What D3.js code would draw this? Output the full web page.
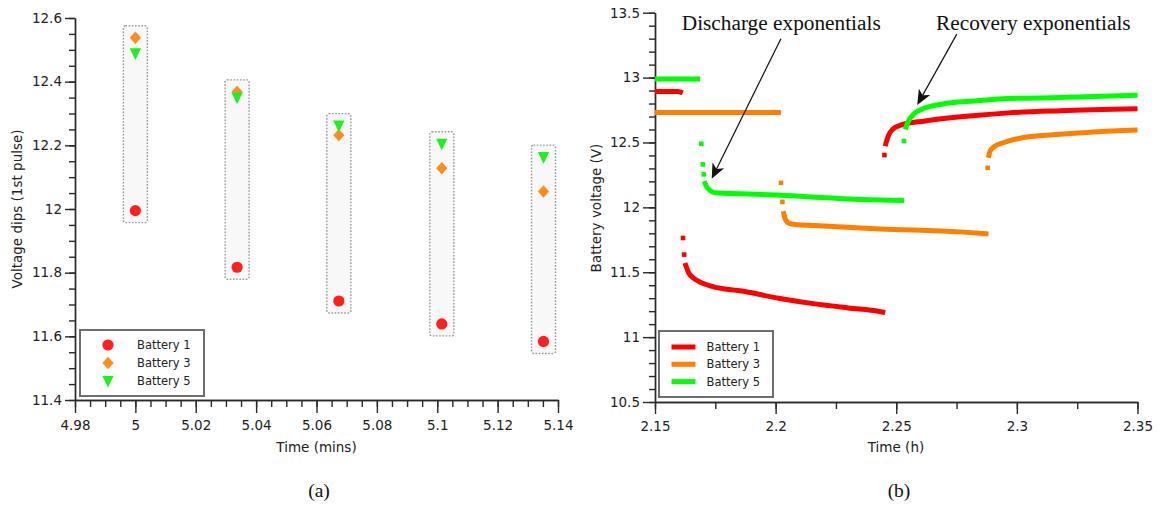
<!DOCTYPE html>
<html><head><meta charset="utf-8">
<script src="https://cdn.jsdelivr.net/npm/d3@7"></script>
<style>body{margin:0;background:#fff}svg{display:block}</style>
</head><body><svg id="c" width="1160" height="506"></svg>
<script>
// ---------- Panel (a) data ----------
const pulseTimes = [5.0, 5.0337, 5.0674, 5.1015, 5.1352];
const dipBattery1 = [11.995, 11.817, 11.711, 11.639, 11.584];
const dipBattery3 = [12.538, 12.368, 12.232, 12.128, 12.055];
const dipBattery5 = [12.489, 12.350, 12.262, 12.205, 12.163];
const xTicksA = [4.98, 5.00, 5.02, 5.04, 5.06, 5.08, 5.10, 5.12, 5.14];
const yTicksA = [11.4, 11.6, 11.8, 12.0, 12.2, 12.4, 12.6];

// ---------- Panel (b) data: [time h, voltage V] ----------
const b1Rest = [[2.15, 12.893], [2.1595, 12.893], [2.1615, 12.882]];
const b1DischargeFirst = [[2.1616, 11.764], [2.1621, 11.636]];
const b1Discharge = [[2.1624, 11.571], [2.1640, 11.494], [2.1660, 11.455], [2.1681, 11.430], [2.1736, 11.391], [2.1861, 11.355], [2.2018, 11.298], [2.2156, 11.258], [2.2300, 11.225], [2.2430, 11.198], [2.2454, 11.190]];
const b1RecoveryFirst = [[2.2451, 12.403]];
const b1Recovery = [[2.2454, 12.472], [2.2467, 12.550], [2.2488, 12.606], [2.2516, 12.632], [2.2619, 12.666], [2.2827, 12.708], [2.2965, 12.728], [2.3179, 12.745], [2.3500, 12.760]];

const b3Rest = [[2.15, 12.730], [2.2022, 12.730]];
const b3DischargeFirst = [[2.2022, 12.189], [2.2028, 12.042]];
const b3Discharge = [[2.2032, 11.970], [2.2038, 11.919], [2.2053, 11.880], [2.2080, 11.868], [2.2163, 11.860], [2.2433, 11.834], [2.2765, 11.811], [2.2882, 11.795]];
const b3RecoveryFirst = [[2.2879, 12.305]];
const b3Recovery = [[2.2882, 12.382], [2.2889, 12.434], [2.2910, 12.472], [2.2944, 12.498], [2.3041, 12.542], [2.3179, 12.563], [2.3317, 12.581], [2.3500, 12.596]];

const b5Rest = [[2.15, 12.990], [2.1687, 12.990]];
const b5DischargeFirst = [[2.1692, 12.490], [2.1698, 12.331], [2.1702, 12.254]];
const b5Discharge = [[2.1704, 12.202], [2.1713, 12.163], [2.1725, 12.136], [2.1750, 12.112], [2.1860, 12.104], [2.2000, 12.095], [2.2150, 12.080], [2.2330, 12.062], [2.2533, 12.053]];
const b5RecoveryFirst = [[2.2532, 12.511]];
const b5Recovery = [[2.2537, 12.601], [2.2551, 12.666], [2.2572, 12.717], [2.2606, 12.756], [2.2689, 12.795], [2.2827, 12.820], [2.2965, 12.838], [2.3179, 12.846], [2.3500, 12.864]];

const xTicksB = [2.15, 2.20, 2.25, 2.30, 2.35];
const yTicksB = [10.5, 11.0, 11.5, 12.0, 12.5, 13.0, 13.5];
const seriesNames = ["Battery 1", "Battery 3", "Battery 5"];

// ---------- styles ----------
const colA = ["#ff1f1f", "#ff8c1f", "#1ff01f"];
const colB = ["#ff0000", "#ff8000", "#00ff00"];
const sans = "'DejaVu Sans', Verdana, sans-serif";
const serif = "'Liberation Serif', 'Times New Roman', serif";
const axisCol = "#2a2a2a";
const fmt = d => String(+d.toFixed(3));

const svg = d3.select("#c");

function drawAxes(x, y, xMajor, xMinorStep, yMajor, yMinorStep, xMaj, yMaj) {
  const [x0, x1] = x.domain(), [y0, y1] = y.domain();
  const xMinor = d3.range(Math.round((x1 - x0) / xMinorStep) + 1).map(i => x0 + i * xMinorStep);
  const yMinor = d3.range(Math.round((y1 - y0) / yMinorStep) + 1).map(i => y0 + i * yMinorStep);
  const yb = y.range()[0], xl = x.range()[0];
  const gx = svg.append("g").attr("transform", `translate(0,${yb})`);
  gx.append("g").call(d3.axisBottom(x).tickValues(xMinor).tickSize(7).tickSizeOuter(0).tickFormat(""));
  gx.append("g").call(d3.axisBottom(x).tickValues(xMajor).tickSize(xMaj).tickSizeOuter(0).tickPadding(7).tickFormat(fmt));
  const gy = svg.append("g").attr("transform", `translate(${xl},0)`);
  gy.append("g").call(d3.axisLeft(y).tickValues(yMinor).tickSize(6).tickSizeOuter(0).tickFormat(""));
  gy.append("g").call(d3.axisLeft(y).tickValues(yMajor).tickSize(yMaj).tickSizeOuter(0).tickPadding(3).tickFormat(fmt));
  [gx, gy].forEach(g => {
    g.selectAll("path,line").attr("stroke", axisCol).attr("stroke-width", 1.4);
    g.selectAll("text").attr("font-family", sans).attr("font-size", 13.5).attr("fill", "#222");
  });
}

// ================= Panel (a) =================
const xA = d3.scaleLinear().domain([4.98, 5.14]).range([75, 558]);
const yA = d3.scaleLinear().domain([11.4, 12.6]).range([400, 18]);

// grouping boxes
pulseTimes.forEach((t, i) => {
  const vals = [dipBattery1[i], dipBattery3[i], dipBattery5[i]];
  const top = yA(d3.max(vals)) - 12, bot = yA(d3.min(vals)) + 12;
  svg.append("rect").attr("x", xA(t) - 12).attr("y", top).attr("width", 24).attr("height", bot - top)
    .attr("rx", 2).attr("fill", "#f8f8f8").attr("stroke", "#9a9a9a").attr("stroke-width", 1.4)
    .attr("stroke-dasharray", "1.6,1.6");
});

drawAxes(xA, yA, xTicksA, 0.005, yTicksA, 0.05, 13, 10);

const shapes = [
  "M0,-5.6A5.6,5.6 0 1,1 0,5.6A5.6,5.6 0 1,1 0,-5.6Z",
  "M0,-6.2L5.6,0L0,6.2L-5.6,0Z",
  "M-5.6,-5L5.6,-5L0,6.6Z"
];
[dipBattery1, dipBattery3, dipBattery5].forEach((vals, s) => {
  svg.append("g").selectAll("path").data(vals).join("path")
    .attr("d", shapes[s]).attr("fill", colA[s])
    .attr("transform", (v, i) => `translate(${xA(pulseTimes[i])},${yA(v)})`);
});

// legend (a)
const legA = svg.append("g");
legA.append("rect").attr("x", 80).attr("y", 330).attr("width", 124).attr("height", 66)
  .attr("fill", "#fff").attr("stroke", "#6e6e6e").attr("stroke-width", 2);
seriesNames.forEach((n, s) => {
  const yy = 345 + s * 18;
  legA.append("path").attr("d", shapes[s]).attr("fill", colA[s]).attr("transform", `translate(108,${yy})`);
  legA.append("text").attr("x", 137).attr("y", yy + 4).text(n)
    .attr("font-family", sans).attr("font-size", 11.5).attr("fill", "#222");
});

svg.append("text").attr("x", 316.5).attr("y", 452).attr("text-anchor", "middle").text("Time (mins)")
  .attr("font-family", sans).attr("font-size", 13.5).attr("fill", "#222");
svg.append("text").attr("transform", "translate(22,209) rotate(-90)").attr("text-anchor", "middle")
  .text("Voltage dips (1st pulse)").attr("font-family", sans).attr("font-size", 13.5).attr("fill", "#222");
svg.append("text").attr("x", 319).attr("y", 497).attr("text-anchor", "middle").text("(a)")
  .attr("font-family", serif).attr("font-size", 19.5).attr("fill", "#111");

// ================= Panel (b) =================
const xB = d3.scaleLinear().domain([2.15, 2.35]).range([655, 1137.5]);
const yB = d3.scaleLinear().domain([10.5, 13.5]).range([402, 12.7]);

drawAxes(xB, yB, xTicksB, 0.025, yTicksB, 0.1, 12, 12);

const line = d3.line().x(d => xB(d[0])).y(d => yB(d[1])).curve(d3.curveMonotoneX);
const battB = [
  [b1Rest, b1DischargeFirst, b1Discharge, b1RecoveryFirst, b1Recovery],
  [b3Rest, b3DischargeFirst, b3Discharge, b3RecoveryFirst, b3Recovery],
  [b5Rest, b5DischargeFirst, b5Discharge, b5RecoveryFirst, b5Recovery]
];
battB.forEach((segs, s) => {
  const g = svg.append("g");
  [segs[0], segs[2], segs[4]].forEach(seg => {
    g.append("path").attr("d", line(seg)).attr("fill", "none").attr("stroke", colB[s])
      .attr("stroke-width", 5);
  });
  [segs[1], segs[3]].forEach(pts => {
    g.selectAll(null).data(pts).join("rect")
      .attr("x", d => xB(d[0]) - 2.3).attr("y", d => yB(d[1]) - 2.3)
      .attr("width", 4.6).attr("height", 4.6).attr("fill", colB[s]);
  });
});

// legend (b)
const legB = svg.append("g");
legB.append("rect").attr("x", 659).attr("y", 331).attr("width", 114).attr("height", 66)
  .attr("fill", "#fff").attr("stroke", "#6e6e6e").attr("stroke-width", 2);
seriesNames.forEach((n, s) => {
  const yy = 347 + s * 17.3;
  legB.append("line").attr("x1", 671.5).attr("x2", 695.5).attr("y1", yy).attr("y2", yy)
    .attr("stroke", colB[s]).attr("stroke-width", 5);
  legB.append("text").attr("x", 706.5).attr("y", yy + 4).text(n)
    .attr("font-family", sans).attr("font-size", 11.5).attr("fill", "#222");
});

svg.append("text").attr("x", 896).attr("y", 452).attr("text-anchor", "middle").text("Time (h)")
  .attr("font-family", sans).attr("font-size", 13.5).attr("fill", "#222");
svg.append("text").attr("transform", "translate(601,208) rotate(-90)").attr("text-anchor", "middle")
  .text("Battery voltage (V)").attr("font-family", sans).attr("font-size", 13.5).attr("fill", "#222");
svg.append("text").attr("x", 899).attr("y", 497).attr("text-anchor", "middle").text("(b)")
  .attr("font-family", serif).attr("font-size", 19.5).attr("fill", "#111");

// annotations (anchored in data coordinates)
const annotations = [
  { text: "Discharge exponentials", tx: 2.1611, ty: 13.366, from: [2.2022, 13.30], to: [2.1735, 12.22] },
  { text: "Recovery exponentials", tx: 2.2665, ty: 13.366, from: [2.2751, 13.335], to: [2.2587, 12.789] }
];
annotations.forEach(a => {
  svg.append("text").attr("x", xB(a.tx)).attr("y", yB(a.ty)).text(a.text)
    .attr("font-family", serif).attr("font-size", 21.3).attr("fill", "#111");
  const x1 = xB(a.from[0]), y1 = yB(a.from[1]), x2 = xB(a.to[0]), y2 = yB(a.to[1]);
  const ang = Math.atan2(y2 - y1, x2 - x1);
  const L = 15, W = 6.5, N = 11;
  const ux = Math.cos(ang), uy = Math.sin(ang), px = -uy, py = ux;
  svg.append("line").attr("x1", x1).attr("y1", y1).attr("x2", x2 - ux * N).attr("y2", y2 - uy * N)
    .attr("stroke", "#111").attr("stroke-width", 1.2);
  const bx = x2 - ux * L, by = y2 - uy * L;
  const head = `M${x2},${y2}L${bx + px * W},${by + py * W}L${x2 - ux * N},${y2 - uy * N}L${bx - px * W},${by - py * W}Z`;
  svg.append("path").attr("d", head).attr("fill", "#111");
});
</script>
</body></html>
